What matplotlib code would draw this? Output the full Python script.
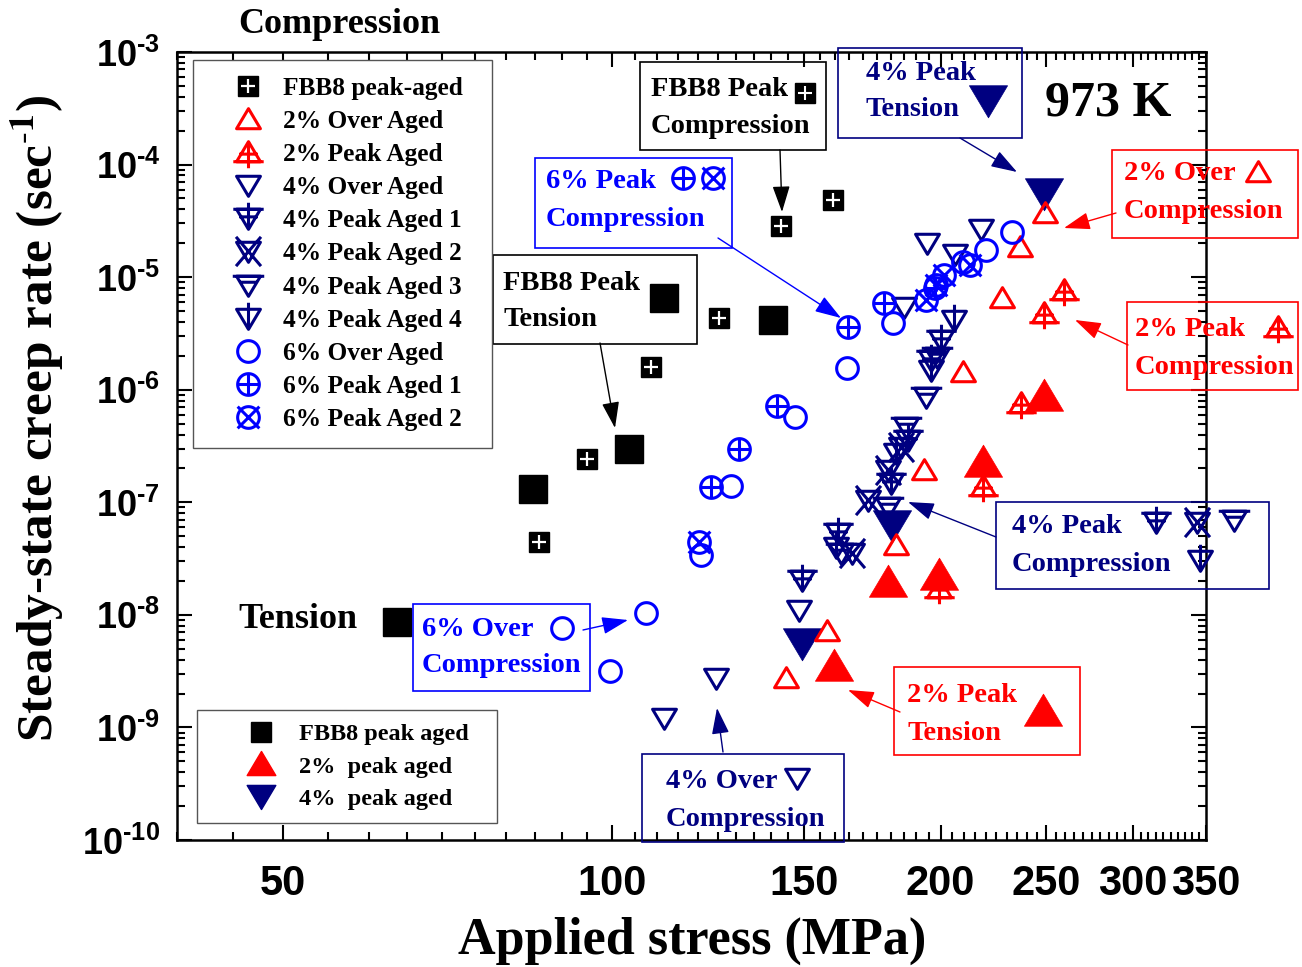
import numpy as np
import matplotlib
matplotlib.use('Agg')
import matplotlib.pyplot as plt
from matplotlib.path import Path
from matplotlib.lines import Line2D
from matplotlib.patches import Rectangle
from matplotlib.legend_handler import HandlerTuple
import matplotlib.ticker as mticker
from matplotlib import font_manager as fm

# ------------------------------------------------------------------ data
# stress (MPa) and steady-state creep rate (1/s)
fbb8_comp_x = [85.8, 94.9, 108.6, 125.3, 142.8, 159.3]
fbb8_comp_y = [4.4e-8, 2.4e-7, 1.6e-6, 4.3e-6, 2.85e-5, 4.85e-5]
fbb8_ten_x = [63.6, 84.8, 103.7, 140.4]
fbb8_ten_y = [8.7e-9, 1.3e-7, 3.0e-7, 4.2e-6]

p2_over_x = [144.3, 157.6, 181.9, 193.0, 209.9, 227.5, 236.7, 249.5]
p2_over_y = [2.75e-9, 7.2e-9, 4.2e-8, 1.94e-7, 1.44e-6, 6.5e-6, 1.85e-5, 3.7e-5]
p2_peak_x = [199.2, 218.9, 237.2, 249.0, 259.7]
p2_peak_y = [1.74e-8, 1.4e-7, 7.6e-7, 4.8e-6, 7.7e-6]
p2_ten_x = [159.7, 179.2, 199.2, 218.9, 248.5]
p2_ten_y = [3.5e-9, 1.96e-8, 2.27e-8, 2.3e-7, 8.8e-7]

p4_over_x = [111.6, 124.5, 148.3, 185.0, 194.2, 206.4, 217.6]
p4_over_y = [1.22e-9, 2.75e-9, 1.1e-8, 5.4e-6, 2.0e-5, 1.6e-5, 2.7e-5]
p4_pa1_x = [149.2, 161.3, 180.0, 186.9, 196.2, 200.0]
p4_pa1_y = [2.05e-8, 5.35e-8, 1.49e-7, 3.6e-7, 1.84e-6, 2.77e-6]
p4_pa2_x = [165.8, 171.8, 179.2, 184.2]
p4_pa2_y = [3.56e-8, 1.05e-7, 1.94e-7, 3.1e-7]
p4_pa3_x = [162.3, 179.2, 185.8, 193.8, 198.4]
p4_pa3_y = [3.56e-8, 9.1e-8, 4.7e-7, 8.6e-7, 1.95e-6]
p4_pa4_x = [160.3, 181.9, 196.2, 205.6]
p4_pa4_y = [4.0e-8, 2.75e-7, 1.5e-6, 4.2e-6]
p4_ten_x = [149.5, 180.4, 248.5]
p4_ten_y = [5.6e-9, 6.3e-8, 5.6e-5]

p6_over_x = [99.6, 107.6, 120.6, 128.5, 147.3, 164.1, 181.1, 209.9, 219.9, 232.3]
p6_over_y = [3.2e-9, 1.04e-8, 3.4e-8, 1.4e-7, 5.7e-7, 1.56e-6, 3.9e-6, 1.36e-5, 1.75e-5, 2.5e-5]
p6_pa1_x = [123.2, 130.7, 141.6, 164.4, 177.7, 197.7]
p6_pa1_y = [1.37e-7, 3.0e-7, 7.2e-7, 3.6e-6, 5.9e-6, 8.0e-6]
p6_pa2_x = [120.1, 194.1, 198.1, 201.5, 212.9]
p6_pa2_y = [4.4e-8, 6.3e-6, 8.5e-6, 1.05e-5, 1.29e-5]

x_ticks = [50, 100, 150, 200, 250, 300, 350]
y_ticks = [1e-10, 1e-9, 1e-8, 1e-7, 1e-6, 1e-5, 1e-4, 1e-3]

legend1_labels = ['FBB8 peak-aged', '2% Over Aged', '2% Peak Aged', '4% Over Aged',
                  '4% Peak Aged 1', '4% Peak Aged 2', '4% Peak Aged 3', '4% Peak Aged 4',
                  '6% Over Aged', '6% Peak Aged 1', '6% Peak Aged 2']
legend2_labels = ['FBB8 peak aged', '2%  peak aged', '4%  peak aged']

# ------------------------------------------------------------------ style
RED = '#FF0000'
BLUE = '#0000FF'
NAVY = '#000080'
BLACK = '#000000'

names = {f.name for f in fm.fontManager.ttflist}
NARROW = 'Liberation Sans Narrow' if 'Liberation Sans Narrow' in names else 'Liberation Sans'
SERIF = 'Liberation Serif'
plt.rcParams['mathtext.fontset'] = 'custom'
plt.rcParams['mathtext.rm'] = NARROW + ':bold'
plt.rcParams['mathtext.bf'] = NARROW + ':bold'
plt.rcParams['mathtext.it'] = NARROW + ':bold'
plt.rcParams['mathtext.default'] = 'bf'

# ------------------------------------------------------------------ markers
R = 1.6


def make_marker(subpaths):
    verts = [(R, 0.0)]
    codes = [Path.MOVETO]
    for pts, closed in subpaths:
        verts.append(pts[0]); codes.append(Path.MOVETO)
        for p in pts[1:]:
            verts.append(p); codes.append(Path.LINETO)
        if closed:
            verts.append(pts[0]); codes.append(Path.CLOSEPOLY)
    return Path(verts, codes)


TU = [(0, 1.0), (-1.1, -0.85), (1.1, -0.85)]
TD = [(0, -1.0), (-1.1, 0.85), (1.1, 0.85)]
th = np.linspace(0, 2 * np.pi, 48, endpoint=False)
CIRC = [(np.cos(t), np.sin(t)) for t in th]

M_TU = make_marker([(TU, True)])
M_TD = make_marker([(TD, True)])
M_2PA = make_marker([(TU, True), ([(0, 1.0), (0, -1.45)], False),
                     ([(-0.85, -0.15), (0.85, -0.15)], False),
                     ([(-1.4, -0.85), (1.4, -0.85)], False)])
M_4PA1 = make_marker([(TD, True), ([(0, -1.0), (0, 1.45)], False),
                      ([(-0.85, 0.15), (0.85, 0.15)], False),
                      ([(-1.4, 0.85), (1.4, 0.85)], False)])
M_4PA2 = make_marker([(TD, True), ([(-1.15, 1.35), (1.15, -1.35)], False),
                      ([(1.15, 1.35), (-1.15, -1.35)], False)])
M_4PA3 = make_marker([(TD, True), ([(-1.45, 0.85), (1.45, 0.85)], False),
                      ([(-0.75, 0.3), (0.75, 0.3)], False)])
M_4PA4 = make_marker([(TD, True), ([(0, 1.45), (0, -1.0)], False)])
M_C = make_marker([(CIRC, True)])
M_CP = make_marker([(CIRC, True), ([(-1, 0), (1, 0)], False), ([(0, -1), (0, 1)], False)])
M_CX = make_marker([(CIRC, True), ([(-1.0, -1.0), (1.0, 1.0)], False),
                    ([(-1.0, 1.0), (1.0, -1.0)], False)])

MS = 25
MEW = 2.2

# ------------------------------------------------------------------ figure
fig = plt.figure(figsize=(13.02, 9.67), dpi=100)
fig.patch.set_facecolor('white')
ax = fig.add_axes([177 / 1302, 1 - 840 / 967, 1029 / 1302, 788 / 967])
ax.set_xscale('log')
ax.set_yscale('log')
ax.set_xlim(40, 350)
ax.set_ylim(1e-10, 1e-3)


def open_series(x, y, m, c, ms=MS, z=3):
    return ax.plot(x, y, ls='none', marker=m, ms=ms, mfc='none', mec=c, mew=MEW, zorder=z)[0]


# compression, FBB8 (square with white cross)
ax.plot(fbb8_comp_x, fbb8_comp_y, ls='none', marker='s', ms=15, mfc=BLACK, mec=BLACK, zorder=3)
ax.plot(fbb8_comp_x, fbb8_comp_y, ls='none', marker='+', ms=10.5, mec='white', mew=1.6, zorder=3.1)
# tension filled
ax.plot(fbb8_ten_x, fbb8_ten_y, ls='none', marker='s', ms=19.5, color=BLACK, zorder=3)
ax.plot(p2_ten_x, p2_ten_y, ls='none', marker=M_TU, ms=40, mfc=RED, mec=RED, mew=0.5, zorder=3)
ax.plot(p4_ten_x, p4_ten_y, ls='none', marker=M_TD, ms=40, mfc=NAVY, mec=NAVY, mew=0.5, zorder=3)

open_series(p2_over_x, p2_over_y, M_TU, RED)
open_series(p2_peak_x, p2_peak_y, M_2PA, RED)
open_series(p4_over_x, p4_over_y, M_TD, NAVY)
open_series(p4_pa1_x, p4_pa1_y, M_4PA1, NAVY)
open_series(p4_pa2_x, p4_pa2_y, M_4PA2, NAVY)
open_series(p4_pa3_x, p4_pa3_y, M_4PA3, NAVY)
open_series(p4_pa4_x, p4_pa4_y, M_4PA4, NAVY)
open_series(p6_over_x, p6_over_y, M_C, BLUE)
open_series(p6_pa1_x, p6_pa1_y, M_CP, BLUE)
open_series(p6_pa2_x, p6_pa2_y, M_CX, BLUE)

# ------------------------------------------------------------------ axes styling
for s in ax.spines.values():
    s.set_linewidth(1.8)
ax.xaxis.set_major_locator(mticker.FixedLocator(x_ticks))
ax.xaxis.set_major_formatter(mticker.FixedFormatter([str(v) for v in x_ticks]))
ax.xaxis.set_minor_locator(mticker.FixedLocator([v for v in range(40, 351, 5) if v not in x_ticks]))
ax.xaxis.set_minor_formatter(mticker.NullFormatter())
ax.yaxis.set_major_locator(mticker.FixedLocator(y_ticks))
ax.yaxis.set_major_formatter(mticker.FuncFormatter(
    lambda v, p: r'$10^{\text{-%d}}$' % int(round(-np.log10(v)))))
ax.yaxis.set_minor_locator(mticker.LogLocator(base=10, subs=np.arange(2, 10), numticks=20))
ax.yaxis.set_minor_formatter(mticker.NullFormatter())
ax.tick_params(which='both', direction='in', top=True, right=True, width=1.5)
ax.tick_params(which='major', length=11)
ax.tick_params(which='minor', length=5.5)
ax.tick_params(axis='x', which='major', pad=17)
ax.tick_params(axis='y', which='major', pad=12)
for lab in ax.get_xticklabels():
    lab.set_fontfamily(NARROW); lab.set_fontweight('bold'); lab.set_fontsize(30)
for lab in ax.get_yticklabels():
    lab.set_fontsize(26)

fig.text(692 / 1302, 1 - 941 / 967, 'Applied stress (MPa)', family=SERIF, weight='bold',
         size=37.5, ha='center', va='center')
fig.text(37 / 1302, 1 - 418 / 967, r'Steady-state creep rate (sec$^{\text{-}\mathbf{1}}$)',
         family=SERIF, weight='bold', size=37, rotation=90, ha='center', va='center',
         math_fontfamily='stix')


# ------------------------------------------------------------------ annotations
def P(px, py):
    """reference-pixel layout position -> axes fraction"""
    return ((px - 177) / 1029.0, (840 - py) / 788.0)


def sym(px, py, m, c, ms=MS, filled=False):
    x, y = P(px, py)
    if filled:
        ax.plot([x], [y], transform=ax.transAxes, ls='none', marker=m, ms=ms, mfc=c, mec=c,
                mew=0.5, clip_on=False, zorder=6)
    else:
        ax.plot([x], [y], transform=ax.transAxes, ls='none', marker=m, ms=ms, mfc='none', mec=c,
                mew=MEW, clip_on=False, zorder=6)


def box(x0, y0, x1, y1, c, l1, l2, tx, ty1, ty2, fs=20.5):
    a0 = P(x0, y1)
    a1 = P(x1, y0)
    ax.add_patch(Rectangle(a0, a1[0] - a0[0], a1[1] - a0[1], transform=ax.transAxes,
                           fill=False, ec=c, lw=1.2, clip_on=False, zorder=5))
    for s, ty in ((l1, ty1), (l2, ty2)):
        ax.text(*P(tx, ty), s, transform=ax.transAxes, color=c, family=SERIF, weight='bold',
                size=fs, ha='left', va='center', zorder=6, clip_on=False)


def arrow(x0, y0, x1, y1, c):
    ax.annotate('', xy=P(x1, y1), xytext=P(x0, y0), xycoords='axes fraction',
                textcoords='axes fraction',
                arrowprops=dict(arrowstyle='-|>,head_length=0.9,head_width=0.3', color=c,
                                lw=1.0, mutation_scale=18, shrinkA=0, shrinkB=0),
                zorder=6, annotation_clip=False)


# FBB8 Peak Compression
box(640, 62, 826, 150, BLACK, 'FBB8 Peak', 'Compression', 651, 89, 126)
ax.plot(*P(805, 93), transform=ax.transAxes, ls='none', marker='s', ms=14, color=BLACK,
        clip_on=False, zorder=6)
ax.plot(*P(805, 93), transform=ax.transAxes, ls='none', marker='+', ms=10, mec='white',
        mew=1.5, clip_on=False, zorder=6.1)
arrow(780, 150, 782, 212, BLACK)
# 6% Peak Compression
box(535, 158, 732, 248, BLUE, '6% Peak', 'Compression', 546, 181, 219)
sym(683, 178, M_CP, BLUE)
sym(713, 178, M_CX, BLUE)
arrow(718, 238, 841, 318, BLUE)
# FBB8 Peak Tension
box(493, 255, 697, 344, BLACK, 'FBB8 Peak', 'Tension', 503, 283, 319)
ax.plot(*P(664, 298), transform=ax.transAxes, ls='none', marker='s', ms=19.5, color=BLACK,
        clip_on=False, zorder=6)
arrow(600, 343, 615, 428, BLACK)
# 4% Peak Tension
box(838, 48, 1022, 138, NAVY, '4% Peak', 'Tension', 866, 73, 109)
sym(988, 100, M_TD, NAVY, ms=40, filled=True)
arrow(960, 138, 1017, 172, NAVY)
# 973 K
ax.text(*P(1108, 103), '973 K', transform=ax.transAxes, family=SERIF, weight='bold', size=36,
        ha='center', va='center', zorder=6)
# 2% Over Compression
box(1112, 150, 1298, 238, RED, '2% Over', 'Compression', 1124, 173, 211)
sym(1258, 172, M_TU, RED)
arrow(1116, 213, 1064, 228, RED)
# 2% Peak Compression
box(1127, 302, 1298, 390, RED, '2% Peak', 'Compression', 1135, 329, 367)
sym(1278, 327, M_2PA, RED)
arrow(1128, 345, 1075, 320, RED)
# 4% Peak Compression
box(996, 502, 1269, 589, NAVY, '4% Peak', 'Compression', 1012, 526, 564)
sym(1156, 522, M_4PA1, NAVY)
sym(1197, 522, M_4PA2, NAVY)
sym(1234, 520, M_4PA3, NAVY)
sym(1200, 560, M_4PA4, NAVY)
arrow(996, 537, 908, 502, NAVY)
# 6% Over Compression
box(413, 604, 590, 691, BLUE, '6% Over', 'Compression', 422, 629, 666)
sym(562, 628, M_C, BLUE)
arrow(583, 630, 628, 620, BLUE)
# 4% Over Compression
box(642, 754, 844, 842, NAVY, '4% Over', 'Compression', 666, 781, 819)
sym(797, 778, M_TD, NAVY)
arrow(723, 752, 717, 708, NAVY)
# 2% Peak Tension
box(894, 667, 1080, 755, RED, '2% Peak', 'Tension', 907, 696, 734)
sym(1043, 711, M_TU, RED, ms=40, filled=True)
arrow(900, 712, 848, 690, RED)

# section labels
ax.text(*P(238, 24), 'Compression', transform=ax.transAxes, family=SERIF, weight='bold',
        size=26, ha='left', va='center', clip_on=False)
ax.text(*P(238, 619), 'Tension', transform=ax.transAxes, family=SERIF, weight='bold',
        size=26, ha='left', va='center', zorder=6)

# ------------------------------------------------------------------ legends
def h(m, c, ms=MS):
    return Line2D([], [], ls='none', marker=m, ms=ms, mfc='none', mec=c, mew=MEW)


handles1 = [
    (Line2D([], [], ls='none', marker='s', ms=15, color=BLACK),
     Line2D([], [], ls='none', marker='+', ms=10.5, mec='white', mew=1.6)),
    h(M_TU, RED), h(M_2PA, RED), h(M_TD, NAVY), h(M_4PA1, NAVY), h(M_4PA2, NAVY),
    h(M_4PA3, NAVY), h(M_4PA4, NAVY), h(M_C, BLUE), h(M_CP, BLUE), h(M_CX, BLUE)]
x0, y0 = P(193, 440)
x1, y1 = P(492, 60)
leg1 = ax.legend(handles1, legend1_labels, loc='upper left',
                 bbox_to_anchor=(x0, y0, x1 - x0, y1 - y0), mode='expand', borderaxespad=0,
                 prop=dict(family=SERIF, weight='bold', size=18.3), fancybox=False,
                 edgecolor='#555555', framealpha=1, borderpad=0.65, labelspacing=0.4,
                 handlelength=3.0, handletextpad=-0.1,
                 handler_map={tuple: HandlerTuple(ndivide=1)})
leg1.get_frame().set_linewidth(1.0)
leg1.set_zorder(7)
ax.add_artist(leg1)

handles2 = [Line2D([], [], ls='none', marker='s', ms=15, color=BLACK),
            Line2D([], [], ls='none', marker=M_TU, ms=30, color=RED),
            Line2D([], [], ls='none', marker=M_TD, ms=30, color=NAVY)]
x0, y0 = P(197, 823)
x1, y1 = P(497, 710)
leg2 = ax.legend(handles2, legend2_labels, loc='upper left',
                 bbox_to_anchor=(x0, y0, x1 - x0, y1 - y0), mode='expand', borderaxespad=0,
                 prop=dict(family=SERIF, weight='bold', size=17.5), fancybox=False,
                 edgecolor='#555555', framealpha=1, borderpad=0.55, labelspacing=0.42,
                 handlelength=4.2, handletextpad=-0.55)
leg2.get_frame().set_linewidth(1.0)
leg2.set_zorder(7)

fig.savefig('out.png', dpi=100, facecolor='white')
